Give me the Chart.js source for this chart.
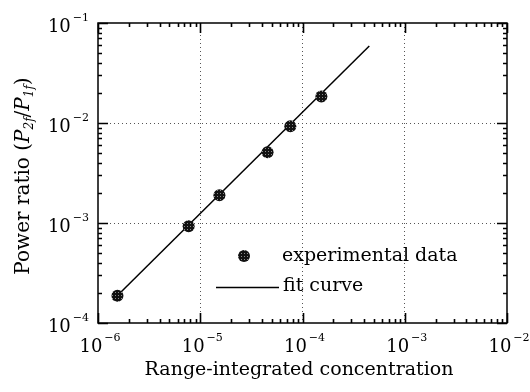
<!DOCTYPE html>
<html>
<head>
<meta charset="utf-8">
<script src="https://cdn.jsdelivr.net/npm/chart.js@4/dist/chart.umd.min.js"></script>
<style>
  html, body { margin: 0; padding: 0; background: #fff; }
  #wrap { width: 530px; height: 392px; }
</style>
</head>
<body>
<div id="wrap"><canvas id="myChart"></canvas></div>
<script>
// values
const concentration = [1.55e-6, 7.7e-6, 1.54e-5, 4.55e-5, 7.6e-5, 1.53e-4];
const powerRatio = [1.87e-4, 9.3e-4, 1.89e-3, 5.1e-3, 9.3e-3, 1.84e-2];
const fitX = [1.4e-6, 4.5e-4];
const fitY = [1.7e-4, 5.9e-2];
const xDecades = [-6, -5, -4, -3, -2];
const yDecades = [-4, -3, -2, -1];
const xTitle = 'Range-integrated concentration';
const legendLabels = ['experimental data', 'fit curve'];

const FONT = '"DejaVu Serif", "Liberation Serif", serif';

// speckled fill for the markers
function markerPattern() {
    let c = document.createElement('canvas');
    c.width = 3; c.height = 3;
    let g = c.getContext('2d');
    g.fillStyle = '#111';
    g.fillRect(0, 0, 3, 3);
    g.fillStyle = '#8a8a8a';
    g.fillRect(1, 1, 1, 1);
    return g.createPattern(c, 'repeat');
}
const dotFill = markerPattern();

// draws "10" with a raised exponent
function drawPower(ctx, exp, cx, cy, align) {
    ctx.textBaseline = 'middle';
    ctx.font = '18px ' + FONT;
    let base = '10';
    let bw = ctx.measureText(base).width;
    ctx.font = '11px ' + FONT;
    let sup = '\u2212' + Math.abs(exp);
    let sw = ctx.measureText(sup).width;
    let total = bw + 2 + sw;
    let x0 = align === 'right' ? cx - total : cx - total / 2;
    ctx.textAlign = 'left';
    ctx.font = '18px ' + FONT;
    ctx.fillText(base, x0, cy);
    ctx.font = '11px ' + FONT;
    ctx.fillText(sup, x0 + bw + 2, cy - 9);
}

const framePlugin = {
    id: 'frame',
    afterDatasetsDraw(chart) {
        const ctx = chart.ctx;
        const a = chart.chartArea;
        const xs = chart.scales.x;
        const ys = chart.scales.y;
        ctx.save();
        ctx.strokeStyle = '#000';
        ctx.fillStyle = '#000';

        // box
        ctx.lineWidth = 1.5;
        ctx.strokeRect(a.left, a.top, a.right - a.left, a.bottom - a.top);

        // ticks on all four sides
        ctx.lineWidth = 1.6;
        ctx.beginPath();
        for (let d = xDecades[0]; d <= xDecades[xDecades.length - 1]; d++) {
            for (let k = 1; k <= 9; k++) {
                let v = k * Math.pow(10, d);
                if (v > xs.max * 1.0001) break;
                let px = Math.round(xs.getPixelForValue(v)) + 0.5;
                let len = k === 1 ? 10 : 4;
                ctx.moveTo(px, a.bottom); ctx.lineTo(px, a.bottom - len);
                ctx.moveTo(px, a.top); ctx.lineTo(px, a.top + len);
            }
        }
        for (let d = yDecades[0]; d <= yDecades[yDecades.length - 1]; d++) {
            for (let k = 1; k <= 9; k++) {
                let v = k * Math.pow(10, d);
                if (v > ys.max * 1.0001) break;
                let py = Math.round(ys.getPixelForValue(v)) + 0.5;
                let len = k === 1 ? 10 : 4;
                ctx.moveTo(a.left, py); ctx.lineTo(a.left + len, py);
                ctx.moveTo(a.right, py); ctx.lineTo(a.right - len, py);
            }
        }
        ctx.stroke();

        // tick labels
        xDecades.forEach(e => {
            let px = xs.getPixelForValue(Math.pow(10, e));
            drawPower(ctx, e, px + 2, a.bottom + 24, 'center');
        });
        yDecades.forEach(e => {
            let py = ys.getPixelForValue(Math.pow(10, e));
            drawPower(ctx, e, a.left - 9, py + 4, 'right');
        });

        // x title
        ctx.font = '19px ' + FONT;
        ctx.textAlign = 'center';
        ctx.textBaseline = 'middle';
        ctx.fillText(xTitle, 299, 370);

        // y title, built piece by piece
        let parts = [
            ['Power ratio (', '20px ' + FONT, 0],
            ['P', 'italic 20px ' + FONT, 0],
            ['2f', 'italic 12px ' + FONT, 6],
            ['/', '20px ' + FONT, 0],
            ['P', 'italic 20px ' + FONT, 0],
            ['1f', 'italic 12px ' + FONT, 6],
            [')', '20px ' + FONT, 0]
        ];
        let total = 0;
        parts.forEach(p => { ctx.font = p[1]; total += ctx.measureText(p[0]).width; });
        ctx.translate(24, 176);
        ctx.rotate(-Math.PI / 2);
        ctx.textAlign = 'left';
        let x = -total / 2;
        parts.forEach(p => {
            ctx.font = p[1];
            ctx.fillText(p[0], x, p[2]);
            x += ctx.measureText(p[0]).width;
        });
        ctx.setTransform(1, 0, 0, 1, 0, 0);

        // legend inside the plot
        ctx.beginPath();
        ctx.arc(244, 256, 6, 0, Math.PI * 2);
        ctx.fillStyle = dotFill;
        ctx.fill();
        ctx.fillStyle = '#000';
        ctx.lineWidth = 1.5;
        ctx.beginPath();
        ctx.moveTo(216, 287.5); ctx.lineTo(279, 287.5);
        ctx.stroke();
        ctx.font = '19px ' + FONT;
        ctx.textAlign = 'left';
        ctx.textBaseline = 'middle';
        ctx.fillText(legendLabels[0], 282, 256);
        ctx.fillText(legendLabels[1], 283, 286);

        ctx.restore();
    }
};

function gridColor(c) {
    let v = c.tick.value;
    let s = c.scale;
    if (Math.abs(Math.log10(v) - Math.log10(s.min)) < 1e-6 || Math.abs(Math.log10(v) - Math.log10(s.max)) < 1e-6) {
        return 'rgba(0,0,0,0)';
    }
    return '#555';
}

window.onload = () => {
    const ctx = document.getElementById('myChart').getContext('2d');
    new Chart(ctx, {
        type: 'scatter',
        data: {
            datasets: [{
                label: legendLabels[1],
                data: fitX.map((v, i) => ({ x: v, y: fitY[i] })),
                showLine: true,
                borderColor: '#000',
                borderWidth: 1.5,
                pointRadius: 0,
                order: 2
            }, {
                label: legendLabels[0],
                data: concentration.map((v, i) => ({ x: v, y: powerRatio[i] })),
                pointRadius: 6,
                pointBackgroundColor: dotFill,
                pointBorderWidth: 0,
                order: 1
            }]
        },
        options: {
            responsive: true,
            maintainAspectRatio: false,
            animation: false,
            layout: { padding: { left: 98, right: 23, top: 23, bottom: 69 } },
            plugins: { legend: { display: false }, tooltip: { enabled: false } },
            scales: {
                x: {
                    type: 'logarithmic',
                    min: 1e-6, max: 1e-2,
                    afterBuildTicks: s => { s.ticks = xDecades.map(e => ({ value: Math.pow(10, e) })); },
                    afterFit: s => { s.height = 0; },
                    ticks: { display: false },
                    grid: { color: gridColor, lineWidth: 1, drawTicks: false, tickLength: 0 },
                    border: { display: false, dash: [1, 3] }
                },
                y: {
                    type: 'logarithmic',
                    min: 1e-4, max: 1e-1,
                    afterBuildTicks: s => { s.ticks = yDecades.map(e => ({ value: Math.pow(10, e) })); },
                    afterFit: s => { s.width = 0; },
                    ticks: { display: false },
                    grid: { color: gridColor, lineWidth: 1, drawTicks: false, tickLength: 0 },
                    border: { display: false, dash: [1, 3] }
                }
            }
        },
        plugins: [framePlugin]
    });
};
</script>
</body>
</html>
